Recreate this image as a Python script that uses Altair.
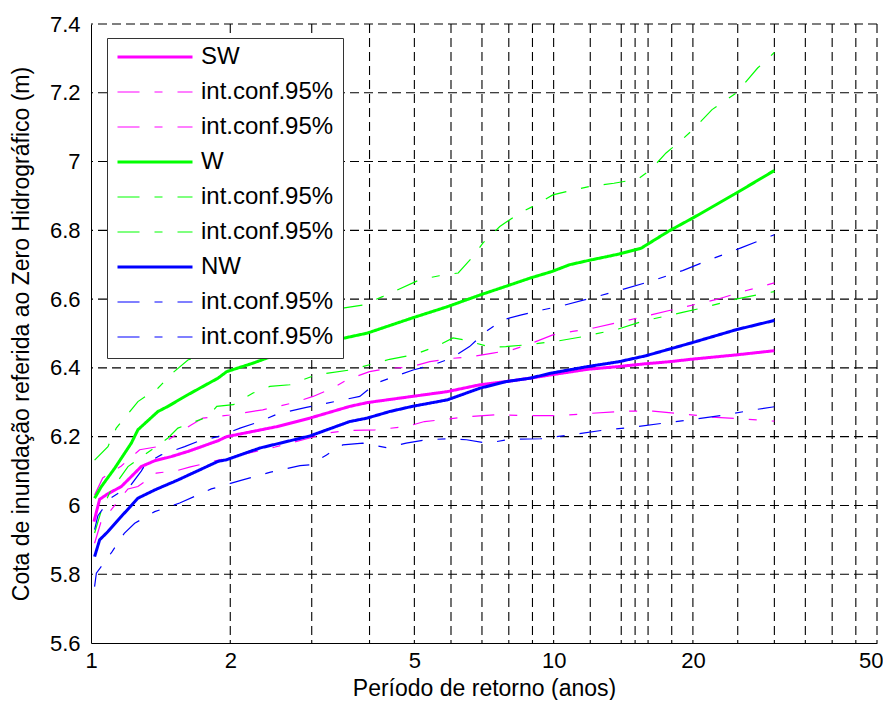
import altair as alt
import pandas as pd

# ---- data ----
sw_x = [1.015, 1.044, 1.088, 1.163, 1.222, 1.284, 1.373, 1.49, 1.62, 1.881, 1.964, 2.518, 2.972, 3.625, 3.953,
        4.943, 5.893, 6.932, 7.876, 8.888, 9.90, 11.86, 13.84, 15.8, 17.8, 19.8, 24.9, 30.0]
sw_y = [5.953, 6.018, 6.034, 6.055, 6.084, 6.113, 6.130, 6.142, 6.157, 6.188, 6.200, 6.229, 6.254, 6.288, 6.299,
        6.317, 6.331, 6.351, 6.360, 6.370, 6.380, 6.396, 6.404, 6.412, 6.418, 6.425, 6.438, 6.450]

sw_up_x = [1.018, 1.06, 1.163, 1.274, 1.395, 1.646, 1.745, 1.995, 2.35, 2.73, 3.02, 3.33, 3.57, 4.0, 4.42, 4.88,
           5.40, 6.06, 6.58, 7.39, 8.16, 8.94, 9.96, 10.99, 12.2, 14.1, 19.0, 22.5, 26.1, 30.0]
sw_up_y = [6.03, 6.08, 6.115, 6.162, 6.171, 6.234, 6.254, 6.263, 6.278, 6.298, 6.317, 6.341, 6.365, 6.389, 6.399,
           6.402, 6.418, 6.428, 6.432, 6.443, 6.453, 6.471, 6.496, 6.506, 6.516, 6.535, 6.576, 6.599, 6.625, 6.647]

sw_lo_x = [1.018, 1.05, 1.202, 1.263, 1.384, 1.53, 1.64, 2.0, 2.5, 2.97, 3.23, 3.57, 4.11, 4.8, 5.26, 5.90, 6.48,
           7.53, 8.87, 10.3, 12.1, 14.1, 16.4, 19.1, 22.0, 25.9, 30.0]
sw_lo_y = [5.89, 5.95, 6.048, 6.055, 6.094, 6.101, 6.112, 6.14, 6.17, 6.196, 6.21, 6.218, 6.220, 6.229, 6.244,
           6.251, 6.258, 6.264, 6.261, 6.261, 6.268, 6.274, 6.274, 6.266, 6.257, 6.251, 6.245]

w_x = [1.018, 1.053, 1.125, 1.222, 1.263, 1.395, 1.466, 1.62, 1.881, 1.964, 2.242, 2.69, 2.97, 3.45, 3.953, 4.943,
       5.893, 6.932, 7.876, 8.888, 9.90, 10.83, 11.86, 13.84, 15.46, 17.8, 20.0, 24.8, 30.0]
w_y = [6.021, 6.055, 6.108, 6.181, 6.220, 6.273, 6.288, 6.322, 6.370, 6.389, 6.414, 6.453, 6.465, 6.484, 6.501,
       6.545, 6.578, 6.612, 6.637, 6.661, 6.680, 6.700, 6.712, 6.731, 6.748, 6.799, 6.836, 6.908, 6.974]

w_up_x = [1.018, 1.088, 1.134, 1.263, 1.395, 1.50, 1.62, 1.79, 2.2, 2.8, 3.5, 3.87, 4.28, 5.13, 5.66, 6.22, 6.70,
          7.03, 7.27, 7.65, 8.43, 9.0, 9.96, 10.83, 12.0, 13.5, 15.2, 16.2, 17.5, 19.1, 20.0, 22.0, 24.8, 27.6, 30.0]
w_up_y = [6.132, 6.171, 6.225, 6.302, 6.341, 6.385, 6.423, 6.443, 6.48, 6.53, 6.574, 6.583, 6.608, 6.656, 6.668,
          6.676, 6.724, 6.763, 6.782, 6.811, 6.850, 6.869, 6.903, 6.915, 6.928, 6.937, 6.949, 6.976, 7.025, 7.068,
          7.093, 7.151, 7.199, 7.272, 7.317]

w_lo_x = [1.018, 1.05, 1.1, 1.202, 1.467, 1.541, 1.79, 1.87, 2.03, 2.24, 2.436, 2.69, 3.07, 3.63, 4.42, 4.97, 5.57,
          6.06, 6.36, 7.33, 7.88, 8.72, 10.1, 11.6, 13.8, 15.7, 19.1, 21.5, 24.8, 30.0]
w_lo_y = [5.92, 5.98, 6.04, 6.113, 6.196, 6.225, 6.258, 6.288, 6.293, 6.327, 6.346, 6.351, 6.380, 6.394, 6.425,
          6.438, 6.462, 6.487, 6.482, 6.460, 6.462, 6.467, 6.477, 6.491, 6.513, 6.537, 6.562, 6.578, 6.600, 6.622]

nw_x = [1.018, 1.044, 1.088, 1.163, 1.263, 1.373, 1.541, 1.881, 1.964, 2.318, 2.972, 3.625, 3.953, 4.42, 4.943,
        5.893, 6.932, 7.876, 8.888, 9.90, 11.86, 13.84, 15.8, 20.0, 24.8, 30.0]
nw_y = [5.851, 5.900, 5.924, 5.968, 6.021, 6.045, 6.074, 6.128, 6.133, 6.167, 6.202, 6.244, 6.254, 6.273, 6.288,
        6.307, 6.341, 6.360, 6.370, 6.385, 6.404, 6.418, 6.435, 6.474, 6.511, 6.538]

nw_up_x = [1.018, 1.035, 1.10, 1.222, 1.284, 1.316, 1.418, 1.594, 1.70, 1.881, 2.10, 2.318, 2.53, 2.92, 3.45, 3.81,
           4.14, 4.97, 5.49, 6.0, 6.58, 7.14, 7.78, 8.52, 9.49, 10.45, 12.2, 14.1, 16.4, 19.0, 22.0, 25.4, 30.0]
nw_up_y = [5.93, 5.97, 6.02, 6.061, 6.10, 6.123, 6.147, 6.171, 6.186, 6.2, 6.225, 6.244, 6.266, 6.285, 6.305, 6.317,
           6.356, 6.394, 6.409, 6.428, 6.462, 6.506, 6.540, 6.554, 6.569, 6.581, 6.605, 6.628, 6.654, 6.683, 6.717,
           6.749, 6.787]

nw_lo_x = [1.018, 1.027, 1.11, 1.18, 1.243, 1.373, 1.555, 1.82, 2.10, 2.445, 2.83, 2.97, 3.23, 3.5, 3.87, 4.35, 4.8,
           5.31, 5.96, 6.48, 7.16, 8.03, 9.37, 10.97, 12.66, 14.9, 17.2, 20.2, 23.4, 27.4, 30.0]
nw_lo_y = [5.764, 5.803, 5.865, 5.919, 5.948, 5.982, 6.007, 6.048, 6.072, 6.097, 6.116, 6.118, 6.147, 6.176, 6.181,
           6.168, 6.181, 6.191, 6.194, 6.191, 6.181, 6.192, 6.194, 6.206, 6.218, 6.228, 6.239, 6.251, 6.263, 6.279,
           6.287]

series_keys = ["SW", "SW_up", "SW_lo", "W", "W_up", "W_lo", "NW", "NW_up", "NW_lo"]
series_xy = [(sw_x, sw_y), (sw_up_x, sw_up_y), (sw_lo_x, sw_lo_y),
             (w_x, w_y), (w_up_x, w_up_y), (w_lo_x, w_lo_y),
             (nw_x, nw_y), (nw_up_x, nw_up_y), (nw_lo_x, nw_lo_y)]

x_tick_values = [1, 2, 5, 10, 20, 50]
y_tick_values = [5.6, 5.8, 6.0, 6.2, 6.4, 6.6, 6.8, 7.0, 7.2, 7.4]
grid_x_values = [2, 3, 4, 5, 6, 7, 8, 9, 10, 12, 14, 15, 16, 18, 20, 25, 30, 35, 40, 45, 50]
grid_y_values = [5.8, 6.0, 6.2, 6.4, 6.6, 6.8, 7.0, 7.2, 7.4]

# ---- styles ----
MAGENTA, GREEN, BLUE = "#ff00ff", "#00ff00", "#0000ff"
series_colors = [MAGENTA] * 3 + [GREEN] * 3 + [BLUE] * 3
CI_DASH = [22, 15, 8, 15]
series_dash = [[1, 0], CI_DASH, CI_DASH] * 3
series_width = [3, 1.2, 1.2] * 3
FONT = "Liberation Sans"
GRID_DASH = [9, 5]

rows = []
for key, (xs, ys) in zip(series_keys, series_xy):
    for i, (xv, yv) in enumerate(zip(xs, ys)):
        rows.append({"series": key, "x": xv, "y": yv, "i": i})
df = pd.DataFrame(rows)

xscale = alt.Scale(type="log", domain=[1, 50], nice=False)
yscale = alt.Scale(domain=[5.6, 7.4], nice=False, zero=False)

x_axis = alt.Axis(values=x_tick_values, labelExpr="format(datum.value, 'd')",
                  labelFlush=True, labelFlushOffset=6,
                  title="Período de retorno (anos)", grid=False, ticks=False, tickSize=0,
                  labelPadding=7, titleY=52, titleBaseline="alphabetic")
y_axis = alt.Axis(values=y_tick_values, format="~g", labelFlush=False,
                  title="Cota de inundação referida ao Zero Hidrográfico (m)",
                  grid=False, ticks=False, tickSize=0, labelPadding=11,
                  titleX=-70, titleBaseline="middle")

label_expr = "(datum.label == 'SW' || datum.label == 'W' || datum.label == 'NW') ? datum.label : 'int.conf.95%'"

grid_v = alt.Chart(pd.DataFrame({"x": grid_x_values})).mark_rule(
    color="#000000", strokeWidth=1.1, strokeDash=GRID_DASH
).encode(x=alt.X("x:Q", scale=xscale, axis=x_axis))

grid_h = alt.Chart(pd.DataFrame({"y": grid_y_values})).mark_rule(
    color="#000000", strokeWidth=1.1, strokeDash=GRID_DASH
).encode(y=alt.Y("y:Q", scale=yscale, axis=y_axis))

lines = alt.Chart(df).mark_line(strokeCap="butt").encode(
    x=alt.X("x:Q", scale=xscale, axis=x_axis),
    y=alt.Y("y:Q", scale=yscale, axis=y_axis),
    color=alt.Color("series:N",
                    scale=alt.Scale(domain=series_keys, range=series_colors),
                    legend=alt.Legend(title=None, orient="none", legendX=16, legendY=14,
                                      symbolType="stroke", symbolSize=5625, clipHeight=20,
                                      rowPadding=11, labelOffset=7, padding=9,
                                      labelFont=FONT, labelFontSize=24, labelColor="black",
                                      strokeColor="#333333", fillColor="white",
                                      labelExpr=label_expr, labelLimit=300)),
    strokeDash=alt.StrokeDash("series:N", scale=alt.Scale(domain=series_keys, range=series_dash)),
    strokeWidth=alt.StrokeWidth("series:N",
                                scale=alt.Scale(type="ordinal", domain=series_keys, range=series_width)),
    order="i:Q",
)

chart = alt.layer(grid_v, grid_h, lines).properties(
    width=786, height=619,
    padding={"left": 83, "top": 16, "right": 6, "bottom": 57},
    autosize=alt.AutoSizeParams(type="none"),
    background="white",
).configure_view(strokeWidth=0).configure_axis(
    domainColor="black", domainWidth=1,
    labelFont=FONT, labelFontSize=22, labelColor="black",
    titleFont=FONT, titleFontSize=23, titleFontWeight="normal", titleColor="black",
)

chart.save("out.html", embed_options={"renderer": "svg", "actions": False})
